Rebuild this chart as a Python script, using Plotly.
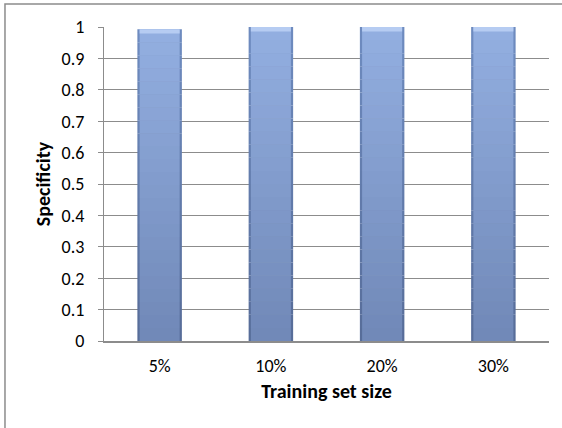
import plotly.graph_objects as go

# Specificity by training-set size
categories = ["5%", "10%", "20%", "30%"]
specificity = [0.993, 1.0, 1.0, 1.0]
y_ticks = [0, 0.1, 0.2, 0.3, 0.4, 0.5, 0.6, 0.7, 0.8, 0.9, 1]


def mix(c1, c2, t):
    a = [int(c1[i:i + 2], 16) for i in (1, 3, 5)]
    b = [int(c2[i:i + 2], 16) for i in (1, 3, 5)]
    return "#" + "".join(f"{round(a[k] + (b[k] - a[k]) * t):02x}" for k in range(3))


fig = go.Figure()

# Each bar is drawn as stacked slices so the fill darkens toward the base,
# with a darker outer rim and a lighter inner body for a bevelled look.
n_slices = 24
layers = [
    (0.40, "#566c98", "#6f8cc0"),   # rim: bottom colour, top colour
    (0.36, "#7088b7", "#93afe1"),   # body
]
for width, c_bottom, c_top in layers:
    for k in range(n_slices):
        t = (k + 0.5) / n_slices
        fig.add_trace(go.Bar(
            x=categories,
            y=[v / n_slices for v in specificity],
            base=[v * k / n_slices for v in specificity],
            width=width,
            marker=dict(color=mix(c_bottom, c_top, t), line=dict(width=0)),
            showlegend=False,
            hoverinfo="skip",
        ))

# Light cap along the top edge of each bar
cap = 0.014
fig.add_trace(go.Bar(
    x=categories,
    y=[cap] * len(specificity),
    base=[v - cap for v in specificity],
    width=0.36,
    marker=dict(color="#b6ccf2", line=dict(width=0)),
    showlegend=False,
    hoverinfo="skip",
))

font_family = "Carlito, Lato, 'Open Sans', sans-serif"

fig.update_layout(
    barmode="overlay",
    width=562,
    height=428,
    margin=dict(l=104, r=13, t=27, b=87),
    paper_bgcolor="white",
    plot_bgcolor="white",
    font=dict(family=font_family, size=18, color="black"),
    xaxis=dict(
        type="category",
        showline=True,
        linecolor="#8c8c8c",
        linewidth=2,
        ticks="",
        showgrid=False,
        tickfont=dict(size=18),
        ticklabelstandoff=7,
        title=dict(text="<b>Training set size</b>", font=dict(size=20), standoff=8),
    ),
    yaxis=dict(
        range=[0, 1],
        tickvals=y_ticks,
        ticktext=[f"{v:g}" for v in y_ticks],
        showline=True,
        linecolor="#8c8c8c",
        linewidth=1,
        ticks="outside",
        ticklen=5,
        tickcolor="#8c8c8c",
        showgrid=True,
        gridcolor="#8c8c8c",
        gridwidth=1,
        zeroline=False,
        tickfont=dict(size=18),
        ticklabelstandoff=10,
        title=dict(text="<b>Specificity</b>", font=dict(size=20), standoff=5),
    ),
    shapes=[dict(
        type="rect", xref="paper", yref="paper",
        x0=-0.2225, x1=1.1, y0=-0.4, y1=1.073,
        line=dict(color="#8c8c8c", width=1.5),
        fillcolor="rgba(0,0,0,0)",
        layer="below",
    )],
)

fig.write_html("out.html")
